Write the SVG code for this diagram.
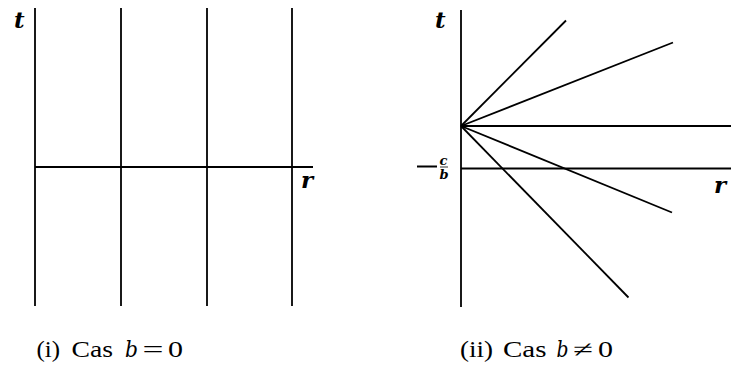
<svg xmlns="http://www.w3.org/2000/svg" width="731" height="370" viewBox="0 0 731 370">
<style>
.ln{stroke:#000;stroke-width:1.8;fill:none;stroke-linecap:butt}
.lab{font-family:"Liberation Serif","DejaVu Serif",serif;fill:#000}
.it{font-family:"DejaVu Serif","Liberation Serif",serif;font-style:italic}
.cap{font-size:23px}
</style>
<rect width="731" height="370" fill="#fff"/>
<g id="panel-i">
  <g id="connectors-i">
    <line class="ln" x1="35" y1="8" x2="35" y2="306"/>
    <line class="ln" x1="121" y1="8" x2="121" y2="306"/>
    <line class="ln" x1="207" y1="8" x2="207" y2="306"/>
    <line class="ln" x1="292" y1="8" x2="292" y2="306"/>
    <line class="ln" x1="35" y1="167" x2="313" y2="167"/>
  </g>
  <text id="t-left" class="lab it" x="14" y="28" font-size="23" font-weight="bold">t</text>
  <text id="r-left" class="lab it" x="301" y="188" font-size="23" font-weight="bold">r</text>
  <g id="caption-i" class="lab cap">
    <text x="36.5" y="357" textLength="23.5" lengthAdjust="spacingAndGlyphs">(i)</text>
    <text x="71.5" y="357" textLength="41.5" lengthAdjust="spacingAndGlyphs">Cas</text>
    <text class="it" x="125" y="357" textLength="13" lengthAdjust="spacingAndGlyphs">b</text>
    <text x="142.5" y="357" textLength="21" lengthAdjust="spacingAndGlyphs">=</text>
    <text x="168" y="357" textLength="15" lengthAdjust="spacingAndGlyphs">0</text>
  </g>
</g>
<g id="panel-ii">
  <g id="connectors-ii">
    <line class="ln" x1="461" y1="10" x2="461" y2="307"/>
    <line class="ln" x1="461" y1="168.5" x2="731" y2="168.5"/>
    <line class="ln" x1="461" y1="126" x2="731" y2="126"/>
    <line class="ln" x1="461" y1="126" x2="566" y2="20.5"/>
    <line class="ln" x1="461" y1="126" x2="673" y2="42.5"/>
    <line class="ln" x1="461" y1="126" x2="672" y2="212.5"/>
    <line class="ln" x1="461" y1="126" x2="628.5" y2="297.5"/>
  </g>
  <text id="t-right" class="lab it" x="435" y="28" font-size="23" font-weight="bold">t</text>
  <text id="r-right" class="lab it" x="714" y="193" font-size="23" font-weight="bold">r</text>
  <g id="label-cb" class="lab">
    <line x1="417" y1="166.5" x2="437" y2="166.5" stroke="#000" stroke-width="2"/>
    <text class="it" x="439.5" y="164.5" font-size="13" font-weight="bold">c</text>
    <line x1="440" y1="167" x2="448" y2="167" stroke="#000" stroke-width="0.8"/>
    <text class="it" x="439.5" y="178.5" font-size="13" font-weight="bold">b</text>
  </g>
  <g id="caption-ii" class="lab cap">
    <text x="460" y="357" textLength="33" lengthAdjust="spacingAndGlyphs">(ii)</text>
    <text x="503" y="357" textLength="43.5" lengthAdjust="spacingAndGlyphs">Cas</text>
    <text class="it" x="556.5" y="357" textLength="12" lengthAdjust="spacingAndGlyphs">b</text>
    <text x="573" y="357" textLength="20" lengthAdjust="spacingAndGlyphs">≠</text>
    <text x="598" y="357" textLength="15" lengthAdjust="spacingAndGlyphs">0</text>
  </g>
</g>
</svg>
